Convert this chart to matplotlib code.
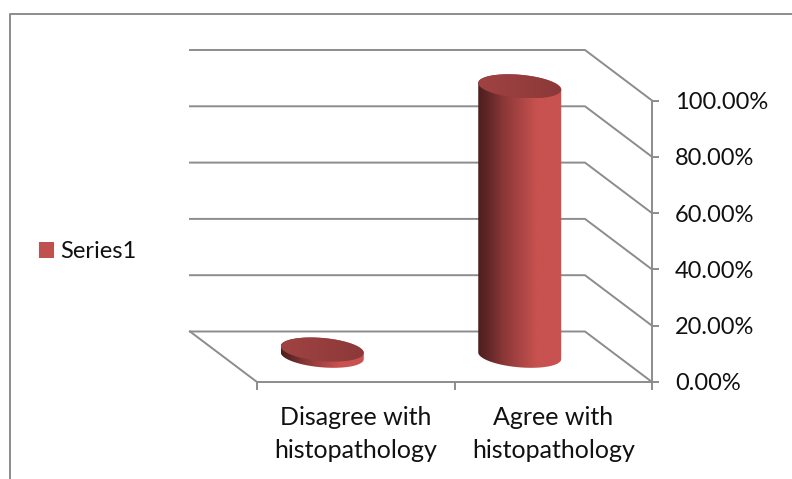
import numpy as np
from matplotlib import pyplot as plt
from matplotlib.colors import LinearSegmentedColormap
from matplotlib.lines import Line2D
from matplotlib.patches import Patch, Polygon

categories = ['Disagree with\nhistopathology', 'Agree with\nhistopathology']
values = [0.022, 0.957]
series_name = 'Series1'
y_ticks = [0.0, 0.2, 0.4, 0.6, 0.8, 1.0]

plt.rcParams['font.family'] = ['Lato', 'DejaVu Sans']

W, H = 792, 479
grey = '#8c8c8c'
text_color = '#111111'
font_size = 17

fig = plt.figure(figsize=(W / 100, H / 100), dpi=100)

# front plane of the 3d box, in pixels
left, right, top, bottom = 257, 652, 100.5, 382
ax = fig.add_axes([left / W, 1 - bottom / H, (right - left) / W, (bottom - top) / H])
ax.set_xlim(0, 2)
ax.set_ylim(0, 1)
ax.patch.set_visible(False)

# pixel to data scales
sx = 2 / (right - left)
sy = 1 / (bottom - top)
dx = -67 * sx
dy = 50.5 * sy

# chart frame, runs off the picture on two sides
fig.add_artist(Line2D([9.5 / W, 9.5 / W, 1], [0, 1 - 13.5 / H, 1 - 13.5 / H],
                      color=grey, lw=1.4))

# walls
for v in y_ticks:
    ax.plot([dx, 2 + dx, 2], [v + dy, v + dy, v], color=grey, lw=1.4, clip_on=False, zorder=1)
ax.plot([dx, 0], [dy, 0], color=grey, lw=1.4, clip_on=False, zorder=1)

for name, spine in ax.spines.items():
    spine.set_visible(name in ('bottom', 'right'))
    spine.set_color(grey)
    spine.set_linewidth(1.4)

ax.yaxis.tick_right()
ax.set_yticks(y_ticks)
ax.set_yticklabels(['%.2f%%' % (v * 100) for v in y_ticks])
ax.tick_params(axis='y', length=5, width=1.4, color=grey, pad=11.5, labelsize=font_size, labelcolor=text_color)

ax.set_xticks([0, 1, 2])
ax.set_xticklabels([])
ax.set_xticks([0.5, 1.5], minor=True)
ax.set_xticklabels(categories, minor=True, linespacing=1.55, ha='center')
ax.tick_params(axis='x', which='major', length=6, width=1.4, color=grey)
ax.tick_params(axis='x', which='minor', length=0, pad=17, labelsize=18, labelcolor=text_color)

# cylinders
side_cmap = LinearSegmentedColormap.from_list('side', [
    (0.0, '#4d1f1f'), (0.1, '#5c2525'), (0.3, '#8a3736'),
    (0.55, '#b04847'), (0.7, '#c8524f'), (1.0, '#c8524f')])
top_cmap = LinearSegmentedColormap.from_list('top', ['#a04242', '#8c3939'])
grad = np.linspace(0, 1, 256).reshape(1, -1)

a = 41.5   # half width, px
b = 11.6   # half height, px
k = 0.08   # tilt of the ellipse


def ellipse(cx, cy, t):
    ex = a * np.cos(t)
    ey = b * np.sin(t) - k * ex
    return cx + ex * sx, cy + ey * sy


def fill(poly_x, poly_y, cmap, x0, x1, z):
    im = ax.imshow(grad, cmap=cmap, extent=[x0, x1, poly_y.min(), poly_y.max()],
                   aspect='auto', zorder=z, interpolation='bilinear')
    poly = Polygon(np.column_stack([poly_x, poly_y]), closed=True, transform=ax.transData,
                   fc='none', ec='none')
    ax.add_patch(poly)
    poly.set_clip_on(False)
    im.set_clip_box(fig.bbox)
    im.set_clip_path(poly)


for i, val in enumerate(values):
    cx = i + 0.5 + dx / 2
    base = dy / 2 + 1 * sy
    head = base + val
    x0, x1 = cx - a * sx, cx + a * sx

    # side: lower half of the base ellipse, back along the upper half of the top one
    low_x, low_y = ellipse(cx, base, np.linspace(np.pi, 2 * np.pi, 80))
    up_x, up_y = ellipse(cx, head, np.linspace(0, np.pi, 80))
    fill(np.r_[low_x, up_x], np.r_[low_y, up_y], side_cmap, x0, x1, 2 + i)

    top_x, top_y = ellipse(cx, head, np.linspace(0, 2 * np.pi, 160))
    fill(top_x, top_y, top_cmap, x0, x1, 2.5 + i)

ax.set_xlim(0, 2)
ax.set_ylim(0, 1)

fig.legend(handles=[Patch(fc='#c0504d', ec='none', label=series_name)],
           loc='center left', bbox_to_anchor=(39 / W, 1 - 251.5 / H), frameon=False,
           fontsize=font_size, handlelength=0.64, handleheight=0.64, handletextpad=0.25,
           borderpad=0, borderaxespad=0, labelcolor=text_color)

plt.savefig('out.png', dpi=100)
